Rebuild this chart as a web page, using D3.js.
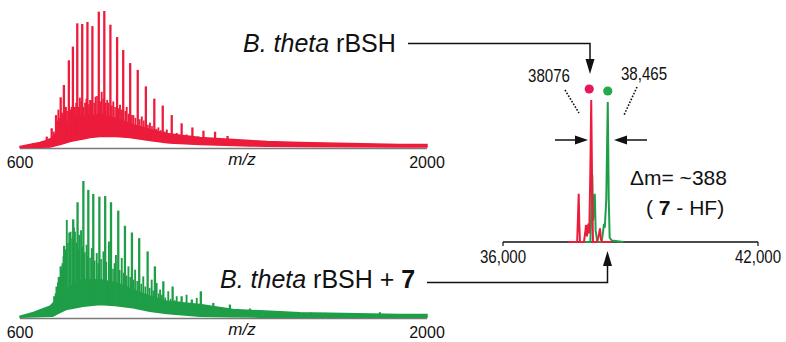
<!DOCTYPE html>
<html>
<head>
<meta charset="utf-8">
<script src="https://cdn.jsdelivr.net/npm/d3@7"></script>
<style>
body { margin: 0; background: #fff; }
svg { display: block; }
text { font-family: "Liberation Sans", Arial, sans-serif; fill: #111; }
</style>
</head>
<body>
<svg id="fig" width="786" height="342"></svg>
<script>
// ---- data (m/z, relative intensity) ----
const mzTicks = [600, 2000]
const massTicks = [36000, 42000]

const redMain = [[646,3.4],[675,4.6],[692,8.3],[709,14.4],[724,24],[740,37],[751,46],[768,64],[782,74],[797,91],[814,90.5],[832,92],[849,89],[871,99.5],[890,100],[911,90],[934,81],[955,71.5],[979,62],[1005,57],[1033,45],[1062,36],[1091,31],[1122,24],[1156,18],[1193,15],[1231,12.6],[1271,11.9],[1314,8.8],[1359,5.5],[1412,5]]
const redMinor = [[655,2.5],[664,3],[684,5],[700,7],[716,12],[732,28],[746,25],[758,30],[773,28],[789,30],[806,36.7],[824,33],[841,35],[860,37.5],[881,41],[900,35],[921,34],[944,31.6],[967,30],[990,24],[1019,23],[1047,18.5],[1076,15],[1105,13.5],[1139,11],[1173,9.8],[1213,8.4],[1250,7],[1292,6],[1335,5],[1380,4.5],[1450,4],[1520,3.8],[1600,3.5],[1700,3.2]]
const redSmall = [[728,20],[736,22],[744,26],[755,28],[762,27],[777,30],[785,28],[793,33],[802,30],[810,34],[819,30],[828,36],[837,32],[845,35],[855,33],[865,38],[876,34],[886,36],[895,33],[905,33],[916,31],[927,30],[939,29],[950,28],[962,27],[973,25],[985,24],[997,22],[1012,21],[1026,20],[1040,17],[1054,16],[1069,14],[1084,13],[1098,12],[1113,11],[1130,10],[1147,9.5],[1165,9],[1183,8],[1203,7.5],[1222,7],[1241,6.5],[1260,6],[1282,5.5],[1303,5],[1330,4.8],[1390,4.4],[1480,4],[1560,3.6],[1650,3.3],[1760,3],[1850,2.8],[1950,2.6]]
const redTop = [[600,1.1],[634,2.5],[669,4],[703,6.2],[720,9.8],[738,14.9],[758,18.5],[789,22],[817,23.6],[875,24.4],[910,22.9],[944,20.7],[989,17],[1047,13.5],[1106,10.5],[1219,7.6],[1333,6.2],[1450,4.7],[1563,4],[1735,3.3],[1907,2.5],[2000,2.5]]
const redFloor = [[600,0.4],[703,0.7],[738,2.5],[772,4.7],[806,6.2],[841,7.6],[875,8.4],[927,8.4],[978,7.6],[1047,5.5],[1116,3.6],[1219,2.5],[1391,1.5],[1563,1.1],[2000,0.7]]

const greenMain = [[646,2],[669,5],[701,8.6],[718,15.9],[726,23],[740,37.7],[752,52.7],[770,62.4],[783,72],[798,84.5],[818,100],[835,93.5],[852,90.5],[873,88.6],[893,89],[913,84.5],[938,78.4],[961,67.3],[985,62.4],[1010,58.3],[1039,48.6],[1064,37.7],[1093,26.8],[1125,23],[1156,15.9],[1191,13.5],[1222,19.5],[1265,11],[1322,9.8],[1391,6.9],[1838,4.2]]
const greenMinor = [[733,30],[746,40],[761,71.6],[774,63],[789,63],[804,60.7],[810,64],[829,53.5],[847,51],[864,47.4],[887,48.6],[906,55.9],[930,46],[950,43.8],[973,37.7],[996,35.3],[1024,30.4],[1053,28],[1070,25.6],[1082,20.7],[1110,19.5],[1139,15.9],[1173,17],[1208,14.7],[1245,9],[1290,8],[1350,6],[1420,5],[1500,4.5],[1600,4],[1700,3.5]]
const greenSmall = [[656,2.5],[684,5],[710,10],[722,18],[730,26],[737,30],[743,35],[749,45],[756,50],[765,55],[779,58],[786,66],[794,55],[801,50],[814,52],[823,48],[832,45],[841,44],[857,42],[869,40],[879,43],[897,41],[910,38],[920,36],[925,40],[943,35],[956,33],[967,31],[979,30],[990,28],[1003,27],[1017,25],[1031,23],[1046,22],[1058,20],[1077,18],[1088,17],[1100,15],[1118,14],[1132,13],[1148,12],[1165,11],[1183,10],[1200,9],[1230,8],[1255,7.5],[1280,7],[1300,6.5],[1340,6],[1370,5.5],[1400,5],[1460,4.5],[1540,4.2],[1650,3.8],[1760,3.4],[1880,3],[1960,2.8]]
const greenTop = [[600,1.3],[646,4],[703,8.6],[738,15.9],[772,23],[817,28],[875,28],[933,25.6],[989,20.7],[1047,15.9],[1105,12.2],[1219,9.8],[1333,6.2],[1563,3.8],[1907,2.5],[2000,2.5]]
const greenFloor = [[600,0.5],[712,1.3],[758,6.2],[817,8.6],[875,9.8],[927,9.1],[989,7.4],[1047,4.9],[1105,3.3],[1219,1.3],[1425,0.6],[2000,0.5]]

// deconvoluted masses (Da, relative intensity)
const deconvRed = [[37540,0],[37745,0],[37765,18],[37781,34],[37796,12],[37812,0],[37905,0],[37940,8],[37953,12],[37975,4],[37995,9],[38007,13],[38030,6],[38055,50],[38076,100],[38098,35],[38118,0],[38215,0],[38255,5],[38282,9.6],[38305,2],[38330,0],[38560,0]]
const deconvGreen = [[37880,0],[38055,0],[38085,25],[38101,47],[38118,15],[38135,22],[38160,34],[38180,8],[38220,0],[38320,0],[38350,6],[38376,12.7],[38395,10],[38430,30],[38465,98.6],[38488,30],[38510,3],[38560,1],[38830,0]]
const peakMasses = [38076, 38465]
const peakLabels = ["38076", "38,465"]

const red = "#ec1c3c"
const green = "#1f9e48"
const redDot = "#e8175d"
const greenDot = "#22ab4a"

const svg = d3.select("#fig")

// ---- left spectra ----
const x = d3.scaleLinear().domain([600, 2000]).range([20, 427])

function drawSpectrum(yBase, yTop, color, main, minor, small, top, floor) {
    const y = d3.scaleLinear().domain([0, 100]).range([yBase, yTop])
    const floorAt = d3.scaleLinear().domain(floor.map(d => d[0])).range(floor.map(d => d[1]))
    const topAt = d3.scaleLinear().domain(top.map(d => d[0])).range(top.map(d => d[1]))
    const g = svg.append("g")

    // axis line
    g.append("line")
        .attr("x1", x(600)).attr("x2", x(2000))
        .attr("y1", yBase + 0.5).attr("y2", yBase + 0.5)
        .attr("stroke", "#7a7a7a").attr("stroke-width", 1.6)

    // noise band
    const band = top.map(d => d[0]).concat(floor.map(d => d[0]))
    const xs = Array.from(new Set(band)).sort((a, b) => a - b)
    const area = d3.area()
        .x(d => x(d))
        .y0(d => y(floorAt(d)))
        .y1(d => y(topAt(d)))
    g.append("path").datum(xs)
        .attr("d", area)
        .attr("fill", color).attr("stroke", color).attr("stroke-width", 1.5)

    // peaks
    const peaks = (data, w) => g.append("g").selectAll("line").data(data).join("line")
        .attr("x1", d => x(d[0])).attr("x2", d => x(d[0]))
        .attr("y1", d => y(floorAt(d[0]))).attr("y2", d => y(d[1]))
        .attr("stroke", color).attr("stroke-width", w)
    peaks(small, 1.6)
    peaks(minor, 1.9)
    peaks(main, 2.3)

    // tick labels
    g.selectAll(".tl").data(mzTicks).join("text")
        .attr("x", d => x(d)).attr("y", yBase + 20)
        .attr("text-anchor", "middle").attr("font-size", 16)
        .text(d => d)
    g.append("text")
        .attr("x", 242).attr("y", yBase + 17)
        .attr("text-anchor", "middle").attr("font-size", 17).attr("font-style", "italic")
        .text("m/z")
}

drawSpectrum(148, 11, red, redMain, redMinor, redSmall, redTop, redFloor)
drawSpectrum(318, 181, green, greenMain, greenMinor, greenSmall, greenTop, greenFloor)

// ---- right deconvoluted panel ----
const mx = d3.scaleLinear().domain([36000, 42000]).range([503, 758])
const my = d3.scaleLinear().domain([0, 100]).range([242, 100])

// condensed-looking labels
function narrowText(px, py, str) {
    svg.append("text")
        .attr("transform", `translate(${px},${py}) scale(0.84,1)`)
        .attr("text-anchor", "middle").attr("font-size", 18)
        .text(str)
}

svg.append("line")
    .attr("x1", mx(36000)).attr("x2", mx(42000))
    .attr("y1", 242).attr("y2", 242)
    .attr("stroke", "#111").attr("stroke-width", 1.6)
svg.selectAll(".mt").data(massTicks).join("line")
    .attr("x1", d => mx(d)).attr("x2", d => mx(d))
    .attr("y1", 242).attr("y2", 246)
    .attr("stroke", "#111").attr("stroke-width", 1.2)
massTicks.forEach(d => narrowText(mx(d), 263, d3.format(",")(d)))

const dline = d3.line().x(d => mx(d[0])).y(d => my(d[1]))
svg.append("path").datum(deconvGreen).attr("d", dline)
    .attr("fill", "none").attr("stroke", green).attr("stroke-width", 2)
svg.append("path").datum(deconvRed).attr("d", dline)
    .attr("fill", "none").attr("stroke", red).attr("stroke-width", 2)

// dots above the two peaks
const peakTops = [100, 98.6]
svg.selectAll(".dot").data(peakMasses).join("circle")
    .attr("cx", (d, i) => mx(d) + (i === 0 ? -2 : 0))
    .attr("cy", (d, i) => my(peakTops[i]) - 11)
    .attr("r", 4.6)
    .attr("fill", (d, i) => i === 0 ? redDot : greenDot)

// mass labels + dotted leaders
narrowText(549, 82, peakLabels[0])
narrowText(644, 80, peakLabels[1])
const leaders = [[[565, 90], [579, 113]], [[637, 87], [624, 115]]]
svg.selectAll(".ld").data(leaders).join("line")
    .attr("x1", d => d[0][0]).attr("y1", d => d[0][1])
    .attr("x2", d => d[1][0]).attr("y2", d => d[1][1])
    .attr("stroke", "#111").attr("stroke-width", 1.6).attr("stroke-dasharray", "1.6,1.6")

// arrows
function arrowHead(tx, ty, dir, len, hw) {
    let pts
    if (dir === "down") pts = [[tx, ty], [tx - hw, ty - len], [tx + hw, ty - len]]
    if (dir === "up") pts = [[tx, ty], [tx - hw, ty + len], [tx + hw, ty + len]]
    if (dir === "right") pts = [[tx, ty], [tx - len, ty - hw], [tx - len, ty + hw]]
    if (dir === "left") pts = [[tx, ty], [tx + len, ty - hw], [tx + len, ty + hw]]
    svg.append("polygon").attr("points", pts.map(p => p.join(",")).join(" ")).attr("fill", "#111")
}
function polyline(pts) {
    svg.append("path").attr("d", d3.line()(pts))
        .attr("fill", "none").attr("stroke", "#111").attr("stroke-width", 1.5)
}

polyline([[408, 43.5], [590, 43.5], [590, 62]])
arrowHead(590, 74, "down", 15, 4.5)
polyline([[427, 282.5], [607.5, 282.5], [607.5, 262]])
arrowHead(607.5, 251, "up", 15, 4.5)
polyline([[555, 140], [576, 140]])
arrowHead(588, 140, "right", 13, 4.5)
polyline([[647, 140], [626, 140]])
arrowHead(614, 140, "left", 13, 4.5)

// labels
const t1 = svg.append("text").attr("x", 243).attr("y", 52).attr("font-size", 25)
t1.append("tspan").attr("font-style", "italic").text("B. theta")
t1.append("tspan").text(" rBSH")

const t2 = svg.append("text").attr("x", 220).attr("y", 288).attr("font-size", 25)
t2.append("tspan").attr("font-style", "italic").text("B. theta")
t2.append("tspan").text(" rBSH + ")
t2.append("tspan").attr("font-weight", "bold").text("7")

svg.append("text").attr("x", 630).attr("y", 185).attr("font-size", 21).text("\u0394m= ~388")
const t3 = svg.append("text").attr("x", 646).attr("y", 215).attr("font-size", 21)
t3.append("tspan").text("( ")
t3.append("tspan").attr("font-weight", "bold").text("7")
t3.append("tspan").text(" - HF)")
</script>
</body>
</html>
